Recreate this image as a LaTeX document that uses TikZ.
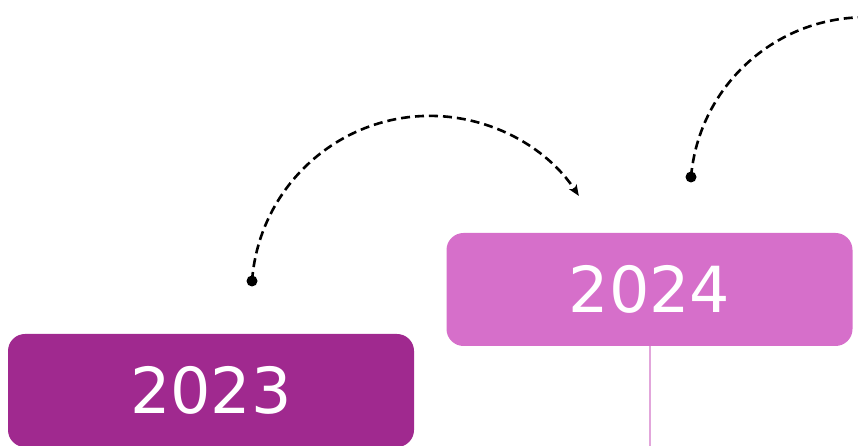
\documentclass[tikz,border=0pt]{standalone}
\usepackage{fontspec}
\setmainfont{DejaVu Sans}
\usetikzlibrary{arrows.meta}
\definecolor{plumdark}{HTML}{A0298F}
\definecolor{plumlight}{HTML}{D66FCA}
\definecolor{stemcol}{HTML}{E2A6DB}
\begin{document}
\begin{tikzpicture}[x=1pt,y=1pt,
  yearbox/.style={rounded corners=17pt, minimum width=406pt, minimum height=113pt,
    inner sep=0pt, text=white, font=\fontsize{63.5}{63.5}\selectfont},
  hop/.style={black, line width=2.6pt, dash pattern=on 9pt off 5pt},
  pin/.style={circle, fill=black, inner sep=0pt, minimum size=11pt}]
  \useasboundingbox (0,0) rectangle (858,446);
  \clip (0,0) rectangle (858,446);
  % year boxes
  \node[yearbox, fill=plumdark] (y23) at (211,55.5) {\raisebox{-2pt}{2023}};
  \node[yearbox, fill=plumlight] (y24) at (649.5,156.5) {\raisebox{-2pt}{2024}};
  % stem below the 2024 box
  \coordinate (stemend) at (649.5,-5);
  \draw[stemcol, line width=2pt] (y24.south) -- (stemend);
  % anchor dots of the arcs
  \node[pin] (d1) at (252,165) {};
  \node[pin] (d2) at (691,269) {};
  % dashed hop arrows
  \draw[hop, -{Stealth[length=11pt, width=9pt, inset=3pt]}]
    (d1.center) arc[start angle=175.7, end angle=33.5, radius=178.5];
  \draw[hop] (d2.center) arc[start angle=175, end angle=88, radius=175];
\end{tikzpicture}
\end{document}
